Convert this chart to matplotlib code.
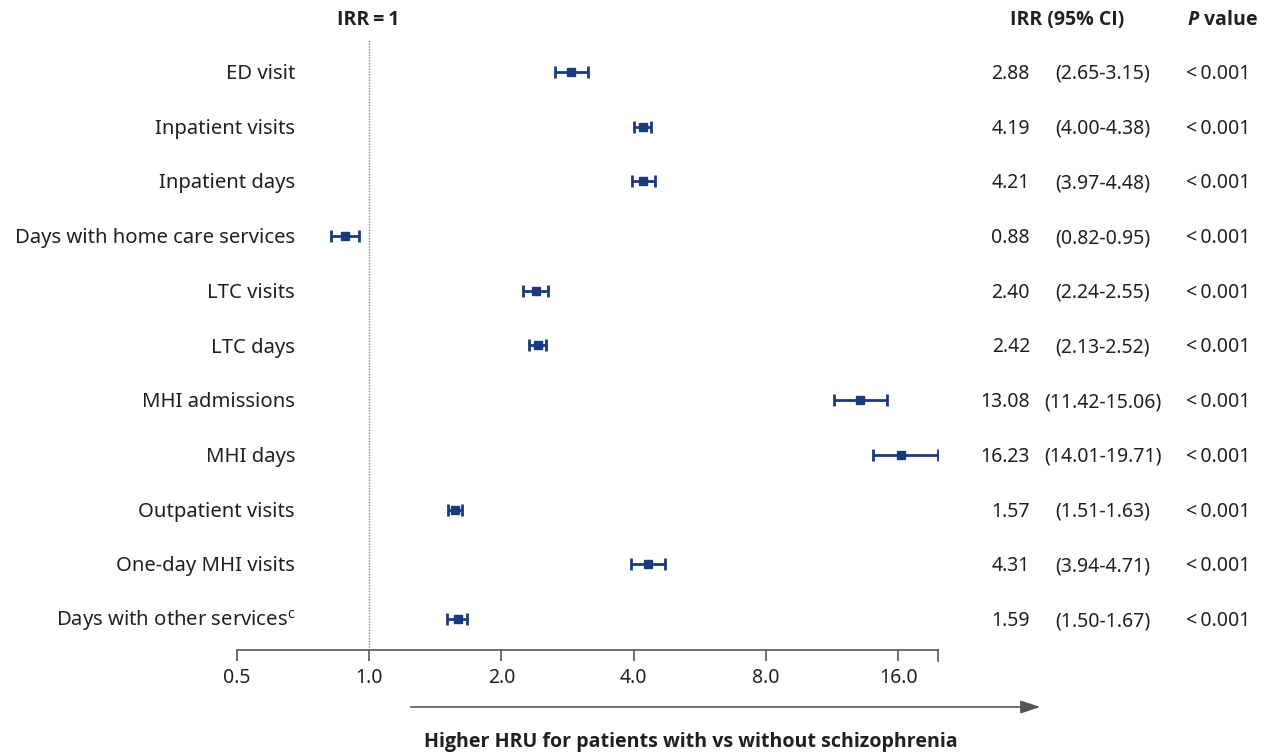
import numpy as np
import matplotlib
matplotlib.use("Agg")
import matplotlib.pyplot as plt

plt.rcParams['font.family'] = ['Noto Sans', 'DejaVu Sans']
plt.rcParams['mathtext.fontset'] = 'custom'
plt.rcParams['mathtext.rm'] = 'Noto Sans'
plt.rcParams['mathtext.bfit'] = 'Open Sans:italic:bold'

categories = ["ED visit", "Inpatient visits", "Inpatient days",
              "Days with home care services", "LTC visits", "LTC days",
              "MHI admissions", "MHI days", "Outpatient visits",
              "One-day MHI visits", "Days with other services$^\\mathregular{c}$"]
irr = [2.88, 4.19, 4.21, 0.88, 2.40, 2.42, 13.08, 16.23, 1.57, 4.31, 1.59]
# lower bounds as drawn in the picture (LTC days bar starts near 2.31)
ci_low = [2.65, 4.00, 3.97, 0.82, 2.24, 2.31, 11.42, 14.01, 1.51, 3.94, 1.50]
ci_high = [3.15, 4.38, 4.48, 0.95, 2.55, 2.52, 15.06, 19.71, 1.63, 4.71, 1.67]
irr_text = ["2.88", "4.19", "4.21", "0.88", "2.40", "2.42", "13.08", "16.23", "1.57", "4.31", "1.59"]
ci_text = ["(2.65-3.15)", "(4.00-4.38)", "(3.97-4.48)", "(0.82-0.95)", "(2.24-2.55)",
           "(2.13-2.52)", "(11.42-15.06)", "(14.01-19.71)", "(1.51-1.63)",
           "(3.94-4.71)", "(1.50-1.67)"]
p_text = ["<\u20090.001"] * 11
tick_vals = [0.5, 1.0, 2.0, 4.0, 8.0, 16.0]
tick_labels = ["0.5", "1.0", "2.0", "4.0", "8.0", "16.0"]

W, H = 1268, 753
fig = plt.figure(figsize=(W / 100, H / 100), dpi=100)

def fx(px):
    return px / W

def fy(py):
    return 1 - py / H

FS = 14
LFS = 14.6
BFS = 14
BOLD = ['Open Sans', 'DejaVu Sans']

ax = fig.add_axes([fx(237), fy(650), fx(938) - fx(237), fy(40) - fy(650)])
ax.set_xscale('log', base=2)
ax.set_xlim(0.5, 19.71)
ax.set_ylim(10.567, -0.585)

navy = '#1b3a7c'
txt = '#231f20'
y = np.arange(len(categories))
err = [np.array(irr) - np.array(ci_low), np.array(ci_high) - np.array(irr)]
ax.errorbar(irr, y, xerr=err, fmt='s', color=navy, ms=6.4, elinewidth=2,
            capsize=4.4, capthick=2.0, zorder=3)
ax.axvline(1.0, color='#888888', ls=(0, (1, 1)), lw=1, zorder=1)

for s in ['top', 'right', 'left']:
    ax.spines[s].set_visible(False)
ax.spines['bottom'].set_color('#555555')
ax.spines['bottom'].set_linewidth(1.2)
ax.set_xticks(tick_vals)
ax.set_xticklabels(tick_labels)
ax.xaxis.set_minor_locator(matplotlib.ticker.NullLocator())
ax.tick_params(axis='x', direction='out', length=8, width=1.2, color='#555555',
               labelsize=FS, labelcolor=txt, pad=5)
ax.set_yticks([])
ax.plot([19.71, 19.71], [10.567, 10.567 + 0.2], color='#555555', lw=1.2,
        clip_on=False)

for i in range(len(categories)):
    ypx = 72 + 54.7 * i + 7
    fig.text(fx(295), fy(ypx), categories[i], ha='right', va='baseline', fontsize=LFS, color=txt)
    fig.text(fx(1030), fy(ypx), irr_text[i], ha='right', va='baseline', fontsize=FS, color=txt)
    fig.text(fx(1103), fy(ypx), ci_text[i], ha='center', va='baseline', fontsize=FS, color=txt)
    fig.text(fx(1250), fy(ypx), p_text[i], ha='right', va='baseline', fontsize=FS, color=txt)

fig.text(fx(368), fy(25), "IRR\u2009=\u20091", ha='center', va='baseline',
         fontsize=BFS, fontweight='bold', color=txt, family=BOLD)
fig.text(fx(1067), fy(25), "IRR (95% CI)", ha='center', va='baseline',
         fontsize=BFS, fontweight='bold', color=txt, family=BOLD)
fig.text(fx(1258), fy(25), "$\\mathbfit{P}$ value", ha='right', va='baseline',
         fontsize=BFS, fontweight='bold', color=txt, family=BOLD)

fig.add_artist(matplotlib.patches.FancyArrowPatch(
    (fx(408), fy(707)), (fx(1043), fy(707)), transform=fig.transFigure,
    arrowstyle='-|>,head_length=12,head_width=4', color='#555555', lw=1.2,
    mutation_scale=1))
fig.text(fx(691), fy(747), "Higher HRU for patients with vs without schizophrenia",
         ha='center', va='baseline', fontsize=14.1, fontweight='bold', color=txt,
         family=BOLD)

fig.savefig("out.png", dpi=100)
